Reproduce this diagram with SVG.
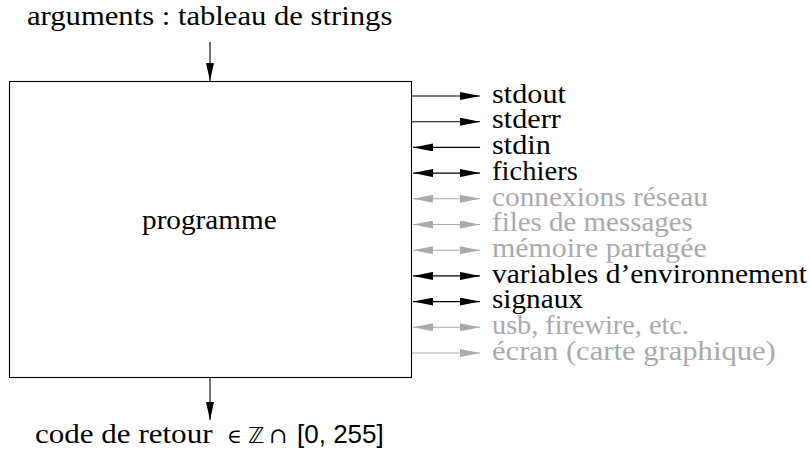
<svg xmlns="http://www.w3.org/2000/svg" width="810" height="450" viewBox="0 0 810 450">
<defs>
<marker id="ak" viewBox="0 0 20 8" refX="20" refY="4" markerWidth="20" markerHeight="8" markerUnits="userSpaceOnUse" orient="auto-start-reverse"><path d="M0,0 L20,4 L0,8 z" fill="#000"/></marker>
<marker id="ag" viewBox="0 0 20 8" refX="20" refY="4" markerWidth="20" markerHeight="8" markerUnits="userSpaceOnUse" orient="auto-start-reverse"><path d="M0,0 L20,4 L0,8 z" fill="#aaa"/></marker>
<marker id="av" viewBox="0 0 8 18" refX="4" refY="18" markerWidth="8" markerHeight="18" markerUnits="userSpaceOnUse" orient="0"><path d="M0,0 L4,18 L8,0 z" fill="#000"/></marker>
</defs>
<g id="programme">
<rect x="9.5" y="81.5" width="402" height="296" fill="#fff" stroke="#000" stroke-width="1.1"/>
<text transform="translate(142,229) scale(1.084,1)" style="font-family:'Liberation Serif',serif !important;font-size:27px">programme</text>
</g>
<g id="arguments"><text transform="translate(27,25) scale(1.135,1)" style="font-family:'Liberation Serif',serif !important;font-size:27px">arguments : tableau de strings</text></g>
<g id="retour">
<text transform="translate(35,443) scale(1.15,1)" style="font-family:'Liberation Serif',serif !important;font-size:27px">code de retour</text>
<text x="227" y="443" style="font-family:'DejaVu Serif',serif !important;font-size:20px">∈</text>
<text x="248" y="443" style="font-family:'DejaVu Sans',sans-serif !important;font-size:22px">ℤ</text>
<text x="269" y="443" style="font-family:'DejaVu Serif',serif !important;font-size:22px">∩</text>
<text x="297" y="443" style="font-family:'Liberation Sans',sans-serif !important;font-size:26px">[0, 255]</text>
</g>
<g id="labels">
<text transform="translate(492,102.7) scale(1.12,1)" style="font-family:'Liberation Serif',serif !important;font-size:27px">stdout</text>
<text transform="translate(492,128.4) scale(1.12,1)" style="font-family:'Liberation Serif',serif !important;font-size:27px">stderr</text>
<text transform="translate(492,154.1) scale(1.12,1)" style="font-family:'Liberation Serif',serif !important;font-size:27px">stdin</text>
<text transform="translate(492,179.8) scale(1.06,1)" style="font-family:'Liberation Serif',serif !important;font-size:27px">fichiers</text>
<text transform="translate(492,205.5) scale(1.087,1)" fill="#aaa" style="font-family:'Liberation Serif',serif !important;font-size:27px">connexions réseau</text>
<text transform="translate(492,231.2) scale(1.072,1)" fill="#aaa" style="font-family:'Liberation Serif',serif !important;font-size:27px">files de messages</text>
<text transform="translate(492,256.9) scale(1.107,1)" fill="#aaa" style="font-family:'Liberation Serif',serif !important;font-size:27px">mémoire partagée</text>
<text transform="translate(492,282.6) scale(1.091,1)" style="font-family:'Liberation Serif',serif !important;font-size:27px">variables d’environnement</text>
<text transform="translate(492,308.3) scale(1.083,1)" style="font-family:'Liberation Serif',serif !important;font-size:27px">signaux</text>
<text transform="translate(492,334) scale(1.047,1)" fill="#aaa" style="font-family:'Liberation Serif',serif !important;font-size:27px">usb, firewire, etc.</text>
<text transform="translate(492,359.7) scale(1.134,1)" fill="#aaa" style="font-family:'Liberation Serif',serif !important;font-size:27px">écran (carte graphique)</text>
</g>
<g id="connectors" fill="none" stroke-width="1.1">
<line x1="210" y1="42" x2="210" y2="81" stroke="#000" marker-end="url(#av)"/>
<line x1="210" y1="378" x2="210" y2="420" stroke="#000" marker-end="url(#av)"/>
<line x1="412" y1="96" x2="480" y2="96" stroke="#000" marker-end="url(#ak)"/>
<line x1="412" y1="121.7" x2="480" y2="121.7" stroke="#000" marker-end="url(#ak)"/>
<line x1="480" y1="147.4" x2="413" y2="147.4" stroke="#000" marker-end="url(#ak)"/>
<line x1="413" y1="173.1" x2="480" y2="173.1" stroke="#000" marker-start="url(#ak)" marker-end="url(#ak)"/>
<line x1="413" y1="198.8" x2="480" y2="198.8" stroke="#aaa" marker-start="url(#ag)" marker-end="url(#ag)"/>
<line x1="413" y1="224.5" x2="480" y2="224.5" stroke="#aaa" marker-start="url(#ag)" marker-end="url(#ag)"/>
<line x1="413" y1="250.2" x2="480" y2="250.2" stroke="#aaa" marker-start="url(#ag)" marker-end="url(#ag)"/>
<line x1="413" y1="275.9" x2="480" y2="275.9" stroke="#000" marker-start="url(#ak)" marker-end="url(#ak)"/>
<line x1="413" y1="301.6" x2="480" y2="301.6" stroke="#000" marker-start="url(#ak)" marker-end="url(#ak)"/>
<line x1="413" y1="327.3" x2="480" y2="327.3" stroke="#aaa" marker-start="url(#ag)" marker-end="url(#ag)"/>
<line x1="412" y1="353" x2="480" y2="353" stroke="#aaa" marker-end="url(#ag)"/>
</g>
</svg>
